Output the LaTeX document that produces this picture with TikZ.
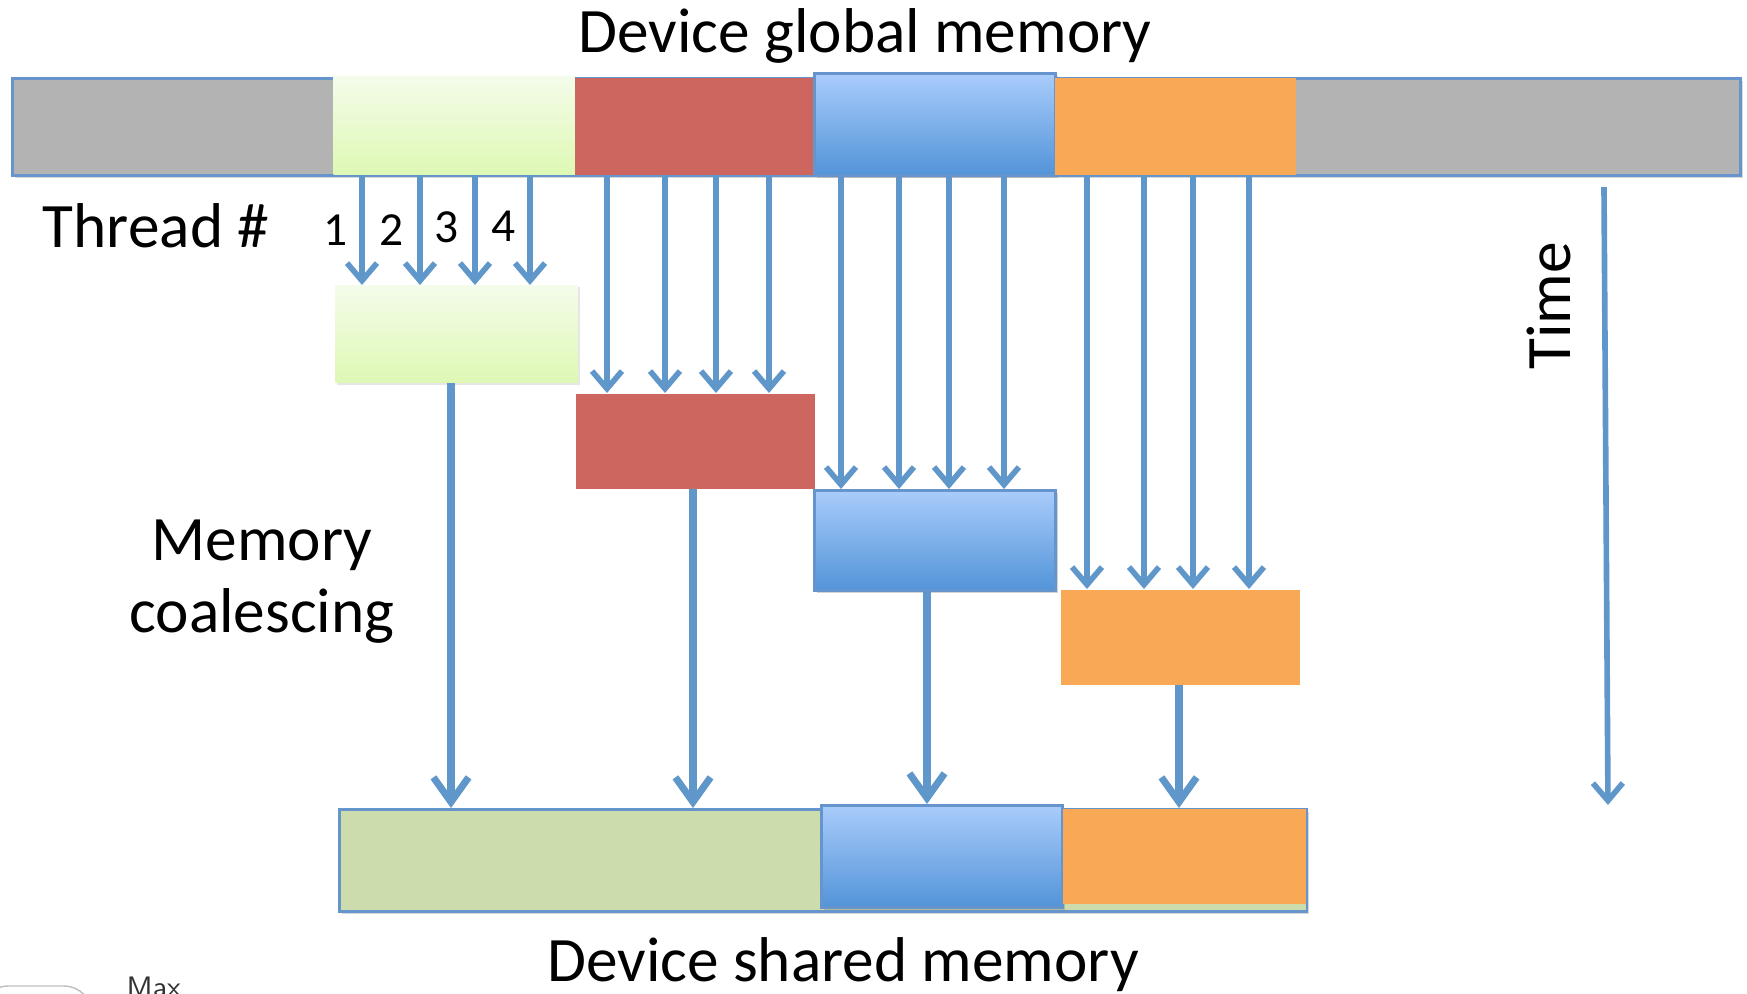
\documentclass[tikz,border=0pt]{standalone}
\usepackage{fontspec}
\setmainfont{Carlito}
\usepackage{tikz}
\usetikzlibrary{arrows.meta,shadows}

\definecolor{memgray}{HTML}{B3B3B3}
\definecolor{memedge}{HTML}{6694CC}
\definecolor{memred}{HTML}{CD665F}
\definecolor{memorange}{HTML}{F9A856}
\definecolor{memgreen}{HTML}{CDDCAC}
\definecolor{lgtop}{HTML}{F4FCEA}
\definecolor{lgbot}{HTML}{DEF8B4}
\definecolor{bltop}{HTML}{A9CCFB}
\definecolor{blbot}{HTML}{5294D8}
\definecolor{arrowblue}{HTML}{6097CB}

\tikzstyle{block}=[rectangle, inner sep=0pt, anchor=north west, minimum width=2.41cm, minimum height=0.97cm]
\tikzstyle{greenblock}=[block, top color=lgtop, bottom color=lgbot]
\tikzstyle{redblock}=[block, fill=memred]
\tikzstyle{blueblock}=[block, top color=bltop, bottom color=blbot, draw=memedge, line width=0.8pt,
	drop shadow={opacity=0.35, shadow xshift=0.6pt, shadow yshift=-0.8pt}]
\tikzstyle{orangeblock}=[block, fill=memorange]
\tikzstyle{membar}=[block, draw=memedge, line width=0.8pt,
	drop shadow={opacity=0.3, shadow xshift=0.6pt, shadow yshift=-0.8pt}]
\tikzstyle{thread}=[draw=arrowblue, line width=1.6pt, -{Straight Barb[length=5pt, width=8.5pt]}]
\tikzstyle{merge}=[draw=arrowblue, line width=2pt, -{Straight Barb[length=7pt, width=10pt]}]
\tikzstyle{bigtext}=[font=\fontsize{18}{21}\selectfont, inner sep=0pt]
\newcommand{\block}{\node}

\begin{document}
\begin{tikzpicture}[x=0.01cm, y=-0.01cm]
	\useasboundingbox (0,0) rectangle (1747,993);
	%% device global memory
	\block[membar, fill=memgray, minimum width=17.27cm] (gbar) at (11,77) {};
	\block[greenblock, minimum height=0.98cm] (gtop) at (333,76) {};
	\block[redblock, minimum width=2.39cm] (rtop) at (574,77) {};
	\block[blueblock, minimum height=1.02cm] (btop) at (813,72) {};
	\block[orangeblock] (otop) at (1054,77) {};
	%% one block per step
	\block[greenblock, minimum width=2.42cm, drop shadow={opacity=0.2, shadow xshift=0.5pt, shadow yshift=-0.5pt}] (gmid) at (335,285) {};
	\block[redblock, minimum width=2.39cm, minimum height=0.95cm] (rmid) at (575,393) {};
	\block[blueblock, minimum height=1.00cm] (bmid) at (813,489) {};
	\block[orangeblock, minimum width=2.39cm, minimum height=0.95cm] (omid) at (1060,589) {};
	%% device shared memory
	\block[membar, fill=memgreen, minimum width=9.67cm, minimum height=1.02cm] (sbar) at (338,808) {};
	\block[blueblock, minimum height=1.02cm] (bbot) at (820,804) {};
	\block[orangeblock, minimum width=2.43cm, minimum height=0.95cm] (obot) at (1062,808) {};
	%% texts
	\node[bigtext] (title) at (865,36) {Device global memory};
	\node[bigtext] (shared) at (843,965) {Device shared memory};
	\node[bigtext] (tnum) at (156,226) {Thread \#};
	\node[bigtext, align=center, font=\fontsize{18}{20.5}\selectfont] (coal) at (262,582) {Memory\\coalescing};
	\node[bigtext, rotate=90] (time) at (1549,306) {Time};
	\foreach \n/\x/\y in {1/336/230, 2/392/230, 3/447/227, 4/504/226}
		\node[font=\fontsize{13.5}{15}\selectfont, inner sep=0pt] (n\n) at (\x,\y) {\n};
	\node[font=\fontsize{8}{9}\selectfont\sffamily, anchor=base west, inner sep=0pt, text=black!80] (maxt) at (126,996) {Max};
	\draw[draw=black!25, top color=white, bottom color=black!10, rounded corners=8pt] (-20,986) rectangle (92,1040);
	%% threads read global memory
	\foreach \x in {362,420,475,530}
		\draw[thread] (\x,0 |- gtop.south) -- (\x,0 |- gmid.north);
	\foreach \x in {607,665,716,769}
		\draw[thread] (\x,0 |- rtop.south) -- (\x,0 |- rmid.north);
	\foreach \x in {841,899,949,1004}
		\draw[thread] (\x,0 |- btop.south) -- (\x,0 |- bmid.north);
	\foreach \x in {1087,1144,1193,1249}
		\draw[thread] (\x,0 |- otop.south) -- (\x,0 |- omid.north);
	%% blocks written to shared memory
	\draw[merge] (451,0 |- gmid.south) -- (451,0 |- sbar.north);
	\draw[merge] (693,0 |- rmid.south) -- (693,0 |- sbar.north);
	\draw[merge] (927,0 |- bmid.south) -- (927,0 |- bbot.north);
	\draw[merge] (1179,0 |- omid.south) -- (1179,0 |- sbar.north);
	%% time axis
	\coordinate (tstart) at (1604,187);
	\coordinate (tend) at (1608,805);
	\draw[thread] (tstart) -- (tend);
\end{tikzpicture}
\end{document}
